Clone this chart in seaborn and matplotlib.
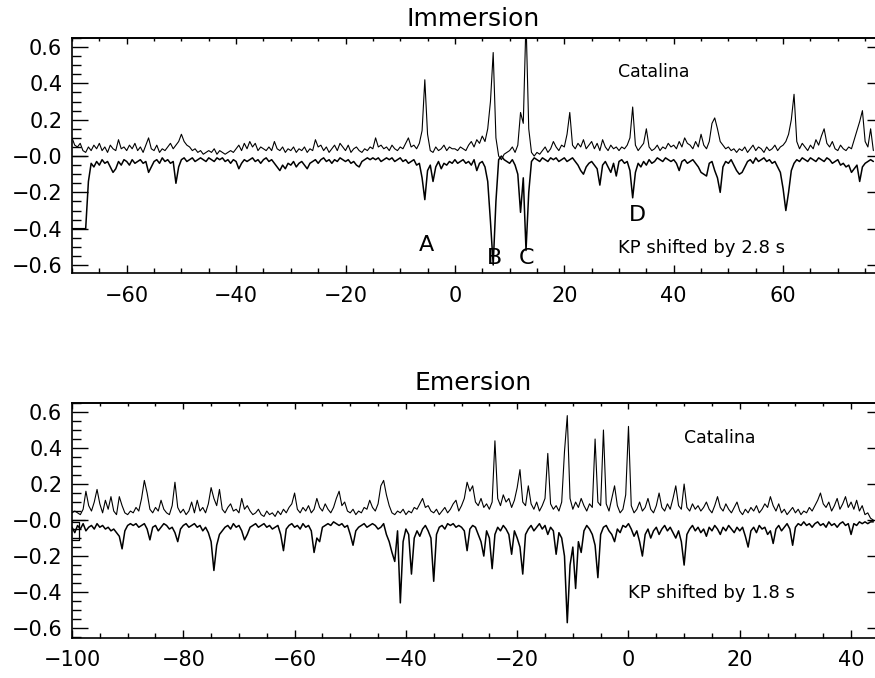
import numpy as np
import pandas as pd
import matplotlib
matplotlib.use("Agg")
import matplotlib.pyplot as plt
import seaborn as sns
from matplotlib.ticker import MultipleLocator, FixedLocator, FixedFormatter, NullFormatter

# ---------------- data (values in units of 0.01, sampled every 0.5 s) ----------------
step = 0.5

imm_t0 = -70.0
imm_catalina = [
    10, 6, 5, 7, 3, 2, 5, 3, 6, 4, 7, 3, 5, 2, 6, 4, 3, 9, 4, 5,
    3, 6, 4, 7, 3, 5, 2, 6, 10, 4, 3, 6, 2, 4, 3, 5, 7, 4, 6, 8,
    12, 8, 6, 5, 3, 4, 2, 3, 1, 2, 3, 2, 4, 1, 3, 2, 1, 2, 3, 2,
    4, 6, 3, 7, 4, 8, 5, 7, 3, 5, 4, 3, 5, 3, 8, 4, 3, 5, 2, 4,
    3, 5, 2, 4, 3, 5, 2, 4, 3, 9, 5, 6, 3, 5, 2, 4, 6, 3, 7, 5,
    3, 6, 2, 4, 5, 3, 2, 4, 3, 5, 4, 10, 5, 6, 4, 5, 3, 6, 4, 3,
    5, 4, 7, 10, 5, 6, 4, 7, 14, 42, 12, 3, 2, 5, 3, 4, 6, 3, 5, 4,
    4, 3, 5, 4, 3, 6, 8, 5, 9, 7, 11, 8, 15, 30, 57, 10, 0, -2, 1, 2,
    3, 5, 2, 6, 24, 18, 75, 15, 2, 0, 2, 1, 3, 5, 2, 4, 8, 5, 3, 6,
    5, 12, 24, 6, 4, 7, 5, 9, 4, 6, 8, 4, 7, 3, 9, 5, 3, 6, 4, 5,
    3, 5, 4, 6, 10, 27, 6, 3, 5, 7, 15, 5, 3, 4, 6, 3, 5, 4, 7, 5,
    6, 4, 8, 5, 10, 7, 6, 4, 8, 5, 12, 6, 4, 8, 18, 21, 15, 8, 6, 4,
    5, 3, 4, 2, 4, 3, 5, 2, 4, 6, 3, 5, 4, 2, 5, 3, 4, 6, 3, 5,
    6, 8, 12, 20, 34, 8, 4, 7, 5, 3, 6, 4, 9, 6, 11, 15, 7, 5, 8, 4,
    3, 6, 4, 3, 5, 4, 9, 14, 19, 25, 8, 5, 15, 3,
]
imm_kp = [
    -40, -40, -40, -40, -40, -40, -14, -4, -6, -3, -5, -2, -4, -3, -6, -9, -7, -3, -5, -2,
    -3, -5, -2, -4, -3, -2, -4, -3, -9, -6, -3, -2, -4, -1, -3, -2, -4, -3, -15, -6,
    -2, -1, -3, -2, -1, -3, -2, -1, -2, -3, -1, -2, -3, -1, -2, -1, -3, -2, -4, -2,
    -3, -7, -4, -2, -3, -2, -1, -3, -2, -4, -2, -1, -3, -2, -4, -6, -8, -5, -7, -4,
    -5, -3, -6, -4, -3, -5, -7, -4, -3, -2, -4, -2, -1, -3, -2, -4, -2, -3, -1, -2,
    -3, -2, -4, -3, -5, -6, -3, -2, -1, -2, -1, -2, -1, -3, -2, -1, -2, -1, -3, -2,
    -1, -3, -2, -4, -3, -2, -5, -4, -12, -24, -8, -5, -14, -6, -3, -7, -4, -5, -3, -4,
    -2, -4, -3, -2, -4, -3, -5, -2, -8, -4, -3, -6, -14, -36, -60, -25, -2, 0, -2, -3,
    -4, -2, -5, -10, -31, -12, -52, -20, -3, -1, -2, -3, -1, -2, -3, -1, -2, -1, -3, -2,
    -1, -3, -2, -1, -3, -5, -8, -10, -6, -4, -3, -5, -7, -16, -5, -3, -6, -9, -4, -11,
    -3, -2, -4, -3, -8, -23, -9, -4, -6, -3, -5, -2, -4, -3, -1, -2, -3, -1, -2, -3,
    -2, -4, -8, -3, -2, -4, -3, -2, -4, -6, -9, -10, -11, -4, -3, -8, -12, -20, -6, -3,
    -4, -2, -5, -8, -10, -9, -6, -3, -2, -4, -1, -3, -2, -1, -3, -2, -4, -3, -6, -9,
    -18, -30, -20, -8, -4, -2, -3, -1, -2, -3, -1, -2, -3, -1, -2, -3, -1, -2, -4, -3,
    -2, -5, -4, -6, -5, -9, -7, -5, -14, -6, -4, -3, -2, -3,
]
imm_pad_t = [-70.0, -67.5]
imm_pad_v = [0, 0]

emr_t0 = -100.0
emr_catalina = [
    4, 5, 4, 3, 6, 16, 8, 5, 10, 17, 9, 4, 11, 6, 13, 5, 3, 13, 8, 4,
    3, 5, 4, 7, 5, 12, 22, 15, 6, 4, 7, 5, 11, 6, 4, 3, 8, 21, 7, 4,
    6, 3, 5, 10, 4, 11, 5, 7, 4, 9, 18, 12, 8, 17, 6, 4, 7, 9, 5, 6,
    4, 12, 6, 8, 5, 3, 4, 6, 3, 2, 5, 3, 4, 2, 5, 3, 6, 4, 7, 9,
    15, 6, 4, 7, 5, 8, 4, 6, 12, 7, 5, 9, 6, 4, 7, 12, 16, 8, 10, 5,
    4, 6, 3, 5, 4, 7, 6, 11, 7, 5, 9, 19, 22, 14, 8, 4, 3, 5, 4, 6,
    3, 5, 4, 7, 6, 9, 12, 7, 8, 5, 4, 6, 3, 5, 7, 4, 6, 9, 11, 5,
    8, 12, 21, 16, 19, 10, 8, 12, 7, 9, 6, 10, 44, 12, 8, 14, 10, 12, 7, 11,
    18, 28, 10, 8, 19, 9, 6, 10, 5, 8, 12, 37, 9, 6, 8, 5, 10, 38, 58, 12,
    6, 10, 7, 12, 8, 5, 9, 7, 45, 10, 8, 50, 9, 5, 12, 19, 8, 4, 6, 14,
    52, 8, 4, 6, 10, 5, 7, 12, 6, 4, 8, 15, 7, 5, 9, 6, 12, 19, 8, 6,
    20, 7, 5, 9, 6, 8, 5, 7, 10, 6, 4, 8, 13, 7, 5, 9, 6, 4, 7, 10,
    5, 3, 6, 4, 7, 5, 8, 4, 6, 9, 7, 13, 8, 5, 9, 4, 6, 3, 5, 7,
    4, 6, 3, 5, 4, 7, 5, 8, 11, 15, 9, 7, 10, 5, 8, 12, 6, 9, 13, 7,
    10, 6, 11, 5, 8, 3, 4, 1, 0,
]
emr_kp = [
    -4, -7, -3, -5, -2, -6, -4, -3, -5, -2, -4, -3, -5, -4, -6, -5, -7, -9, -16, -6,
    -3, -2, -3, -2, -4, -3, -2, -5, -11, -4, -3, -6, -4, -2, -3, -5, -4, -7, -12, -5,
    -3, -2, -4, -3, -2, -4, -3, -6, -4, -7, -12, -28, -14, -8, -6, -4, -3, -5, -2, -4,
    -3, -6, -11, -8, -4, -3, -2, -4, -3, -2, -4, -3, -5, -4, -3, -8, -17, -5, -3, -2,
    -4, -3, -5, -2, -4, -3, -6, -18, -10, -12, -4, -3, -2, -3, -1, -2, -3, -2, -4, -3,
    -8, -14, -6, -4, -3, -2, -4, -3, -2, -3, -5, -4, -2, -8, -12, -18, -23, -6, -46, -12,
    -5, -8, -30, -10, -6, -9, -5, -3, -6, -10, -34, -8, -4, -3, -5, -2, -3, -2, -4, -3,
    -4, -6, -17, -5, -3, -4, -8, -12, -20, -6, -10, -27, -8, -4, -6, -3, -5, -8, -19, -6,
    -10, -15, -30, -8, -5, -3, -6, -4, -2, -5, -3, -8, -4, -6, -19, -7, -10, -20, -57, -25,
    -15, -38, -12, -18, -6, -3, -5, -8, -14, -32, -8, -4, -3, -6, -8, -12, -5, -7, -3, -4,
    -2, -5, -9, -6, -12, -20, -8, -5, -10, -6, -4, -8, -5, -3, -6, -4, -7, -10, -6, -12,
    -25, -8, -5, -3, -6, -4, -7, -5, -9, -4, -6, -3, -5, -8, -4, -6, -3, -5, -7, -4,
    -6, -4, -9, -15, -6, -4, -7, -3, -5, -4, -8, -6, -13, -5, -3, -6, -4, -2, -5, -14,
    -4, -2, -3, -1, -3, -2, -4, -2, -1, -3, -2, -4, -1, -3, -2, -4, -2, -1, -3, -2,
    -8, -2, -3, -1, -2, -1, -2, -1, -1,
]
emr_pad_t = [-97.7, -100.0, -100.0, -98.8, -98.8, -100.0]
emr_pad_v = [0, 0, -1, -1, -11, -11]

ytick_vals = [-0.6, -0.4, -0.2, 0.0, 0.2, 0.4, 0.6]
ytick_labels = ["\u22120.6", "\u22120.4", "\u22120.2", "\u22120.0", "0.2", "0.4", "0.6"]

# ---------------- style ----------------
sns.set_theme(style="ticks")
plt.rcParams["font.family"] = ["DejaVu Sans"]
plt.rcParams["axes.linewidth"] = 1.2
plt.rcParams["axes.edgecolor"] = "black"
plt.rcParams["text.color"] = "black"
plt.rcParams["xtick.color"] = "black"
plt.rcParams["ytick.color"] = "black"


def series(t0, vals):
    v = np.asarray(vals, dtype=float) / 100.0
    t = t0 + step * np.arange(len(v))
    return pd.DataFrame({"t": t, "v": v})


def raw(ts, vals):
    return pd.DataFrame({"t": np.asarray(ts, float), "v": np.asarray(vals, float) / 100.0})


W, H = 875, 678
fig = plt.figure(figsize=(W / 100, H / 100), dpi=100)


def axes_px(l, t, r, b):
    return fig.add_axes([l / W, 1 - b / H, (r - l) / W, (b - t) / H])


def draw_panel(ax, title, cat, kp, pad, xlim, ylim, cat_xy, kp_xy):
    sns.lineplot(data=pad, x="t", y="v", ax=ax, color="black", linewidth=0.9,
                 estimator=None, sort=False, legend=False)
    sns.lineplot(data=cat, x="t", y="v", ax=ax, color="black", linewidth=0.8,
                 estimator=None, sort=False, legend=False)
    sns.lineplot(data=kp, x="t", y="v", ax=ax, color="black", linewidth=1.1,
                 estimator=None, sort=False, legend=False)
    ax.set_xlim(*xlim)
    ax.set_ylim(*ylim)
    ax.set_xlabel("")
    ax.set_ylabel("")
    ax.set_title(title, fontsize=18, pad=9)

    ax.xaxis.set_major_locator(MultipleLocator(20))
    ax.xaxis.set_minor_locator(MultipleLocator(5))
    ax.yaxis.set_major_locator(FixedLocator(ytick_vals))
    ax.yaxis.set_major_formatter(FixedFormatter(ytick_labels))
    ax.yaxis.set_minor_locator(MultipleLocator(0.05))

    ax.spines["right"].set_visible(False)
    ax.tick_params(which="both", direction="in", top=False, right=False, labelsize=15, width=1.0)
    ax.tick_params(axis="y", which="major", length=11.5, pad=7)
    ax.tick_params(axis="y", which="minor", length=6.5)
    ax.tick_params(axis="x", which="major", length=6, pad=9)
    ax.tick_params(axis="x", which="minor", length=3.5)

    top = ax.secondary_xaxis("top")
    top.xaxis.set_major_locator(MultipleLocator(20))
    top.xaxis.set_minor_locator(MultipleLocator(5))
    top.xaxis.set_major_formatter(NullFormatter())
    top.tick_params(which="major", direction="in", length=4.5, width=1.0)
    top.tick_params(which="minor", direction="in", length=2.5, width=1.0)

    rgt = ax.secondary_yaxis("right")
    rgt.yaxis.set_major_locator(FixedLocator(ytick_vals))
    rgt.yaxis.set_major_formatter(NullFormatter())
    rgt.yaxis.set_minor_locator(FixedLocator([]))
    rgt.tick_params(which="major", direction="in", length=6, width=1.0)
    rgt.spines["right"].set_visible(False)

    ax.text(cat_xy[0], cat_xy[1], "Catalina", fontsize=12.5, ha="left", va="center")
    ax.text(kp_xy[0], kp_xy[1], kp_xy[2], fontsize=13, ha="left", va="center")


ax1 = axes_px(72, 38, 875, 273)
ax2 = axes_px(72, 403, 875, 638)

draw_panel(ax1, "Immersion", series(imm_t0, imm_catalina), series(imm_t0, imm_kp),
           raw(imm_pad_t, imm_pad_v), (-70.0, 76.8), (-0.644, 0.65),
           (29.8, 0.463), (29.8, -0.506, "KP shifted by 2.8 s"))
for lab, lx, ly in [("A", -5.2, -0.489), ("B", 7.3, -0.561), ("C", 13.1, -0.561), ("D", 33.4, -0.327)]:
    ax1.text(lx, ly, lab, fontsize=16, ha="center", va="center")

draw_panel(ax2, "Emersion", series(emr_t0, emr_catalina), series(emr_t0, emr_kp),
           raw(emr_pad_t, emr_pad_v), (-100.0, 44.3), (-0.655, 0.65),
           (9.9, 0.456), (0.0, -0.406, "KP shifted by 1.8 s"))

fig.savefig("out.png", dpi=100)
